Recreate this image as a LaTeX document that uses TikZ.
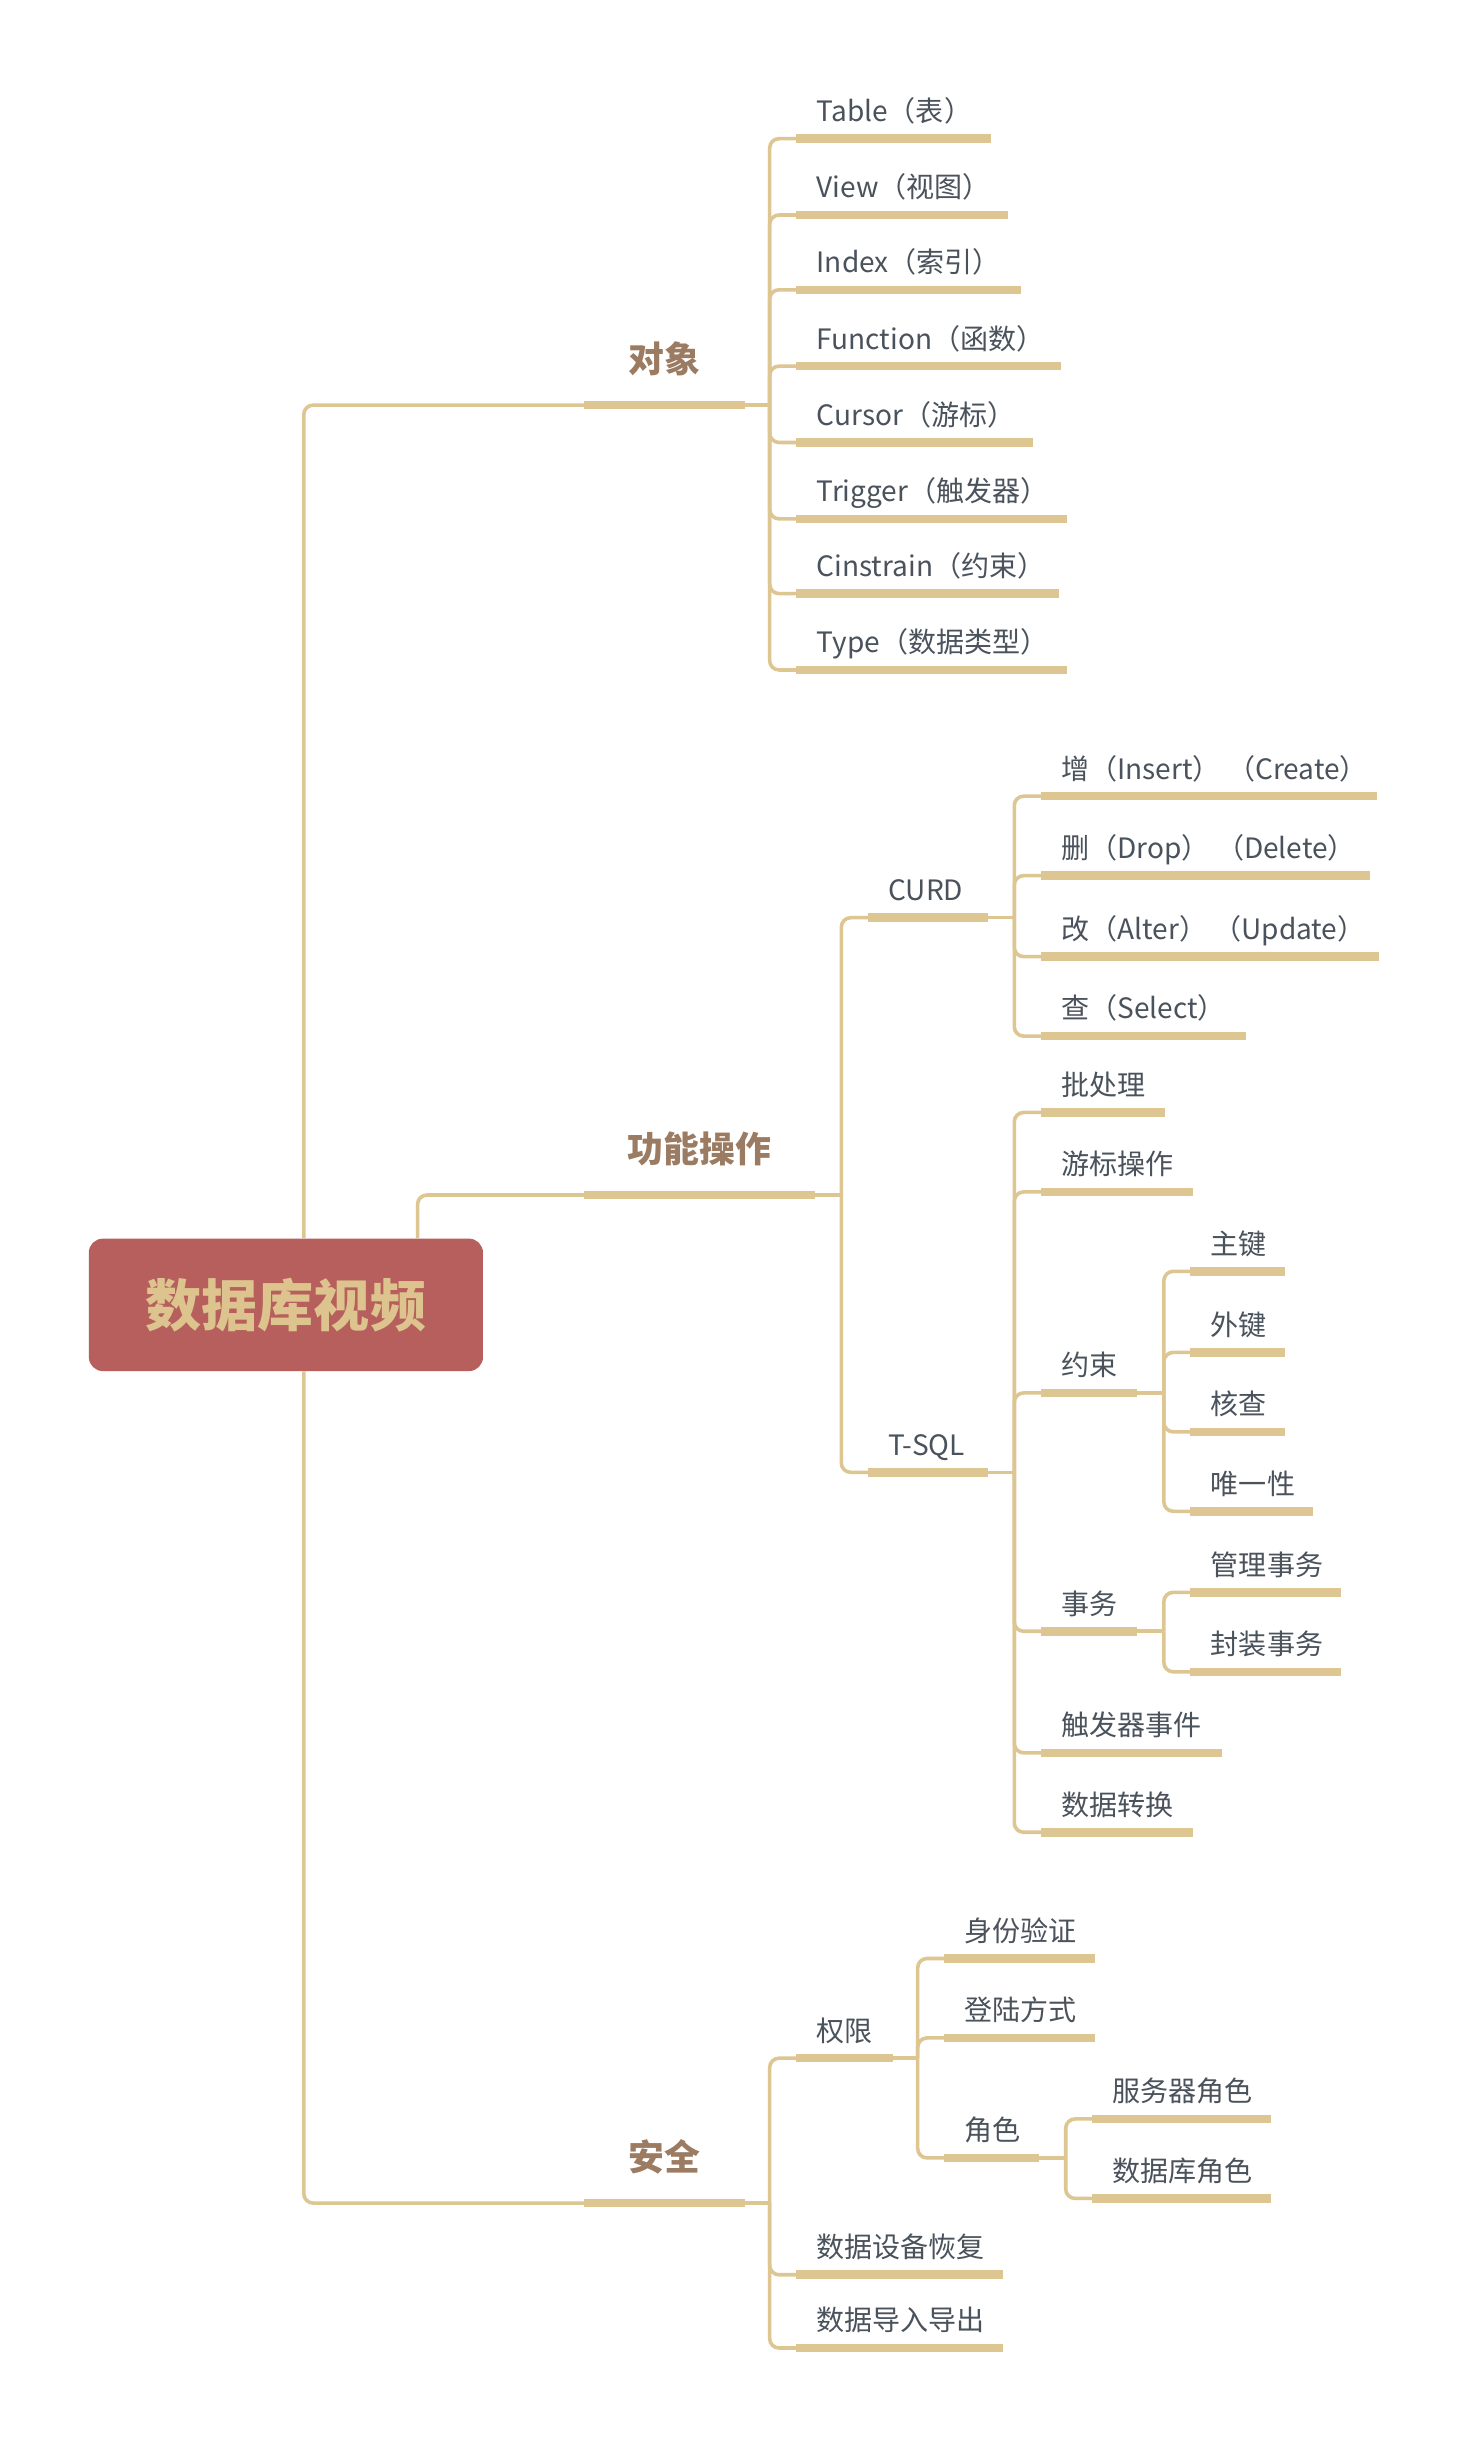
\documentclass[tikz,border=0pt]{standalone}
\usepackage{fontspec}
\setmainfont{Noto Sans CJK SC}
\definecolor{linec}{HTML}{DDC692}
\definecolor{rootfill}{HTML}{B75F5C}
\definecolor{roottext}{HTML}{DDC48F}
\definecolor{lvlone}{HTML}{9B7B62}
\definecolor{txt}{HTML}{4A525C}
% leaf: name, x, y (underline), length, text
\newcommand\leaf[5]{%
  \coordinate (#1) at (#2,#3);
  \coordinate (#1-e) at (#2+#4,#3);
  \node[lbl] (#1-t) at (#2+13,#3-11) {#5};
  \draw[ul] (#1) -- (#1-e);
}
% main branch: name, x, y, length, text
\newcommand\mainbr[5]{%
  \coordinate (#1) at (#2,#3);
  \coordinate (#1-e) at (#2+#4,#3);
  \node[lone] (#1-t) at (#2+#4/2,#3-21) {#5};
  \draw[ul] (#1) -- (#1-e);
}
\begin{document}
\begin{tikzpicture}[x=1pt,y=-1pt,
  conn/.style={draw=linec, line width=2.3pt, rounded corners=6pt},
  ul/.style={draw=linec, line width=5.5pt},
  lbl/.style={text=txt, font=\fontsize{18}{21}\selectfont, inner sep=0pt, anchor=base west},
  lone/.style={text=lvlone, font=\fontsize{23}{26}\selectfont\bfseries, inner sep=0pt, anchor=base},
  rootbox/.style={fill=rootfill, rounded corners=9pt, minimum width=253pt, minimum height=85pt,
    inner sep=0pt, text=roottext, font=\fontsize{36}{40}\selectfont\bfseries}]
\fill[white] (0,0) rectangle (942,1568);
\useasboundingbox (0,0) rectangle (942,1568);

% root
\node[rootbox] (root) at (183.5,837.5) {数据库视频};
\coordinate (x195) at (195,0);
\coordinate (x268) at (268,0);
\coordinate (rt1) at (root.north -| x195);
\coordinate (rt2) at (root.north -| x268);
\coordinate (rb1) at (root.south -| x195);

% ---------- 对象 ----------
\mainbr{obj}{375}{260}{103}{对象}
\draw[conn] (rt1) |- (obj);
\coordinate (objS) at (494,260);
\draw[conn] (obj-e) -- (objS);
\leaf{o1}{511}{89}{125}{Table（表）}
\leaf{o2}{511}{138}{136}{View（视图）}
\leaf{o3}{511}{186}{144}{Index（索引）}
\leaf{o4}{511}{235}{170}{Function（函数）}
\leaf{o5}{511}{284}{152}{Cursor（游标）}
\leaf{o6}{511}{333}{174}{Trigger（触发器）}
\leaf{o7}{511}{381}{169}{Cinstrain（约束）}
\leaf{o8}{511}{430}{174}{Type（数据类型）}
\foreach \c in {o1,o2,o3,o4,o5,o6,o7,o8} \draw[conn] (objS) |- (\c);

% ---------- 功能操作 ----------
\mainbr{fn}{375}{767}{148}{功能操作}
\draw[conn] (rt2) |- (fn);
\coordinate (fnS) at (540,767);
\draw[conn] (fn-e) -- (fnS);
\leaf{curd}{557}{589}{77}{CURD}
\leaf{tsql}{557}{945}{77}{T-SQL}
\draw[conn] (fnS) |- (curd);
\draw[conn] (fnS) |- (tsql);

\coordinate (curdS) at (651,589);
\draw[conn] (curd-e) -- (curdS);
\leaf{c1}{668}{511}{216}{增（Insert） （Create）}
\leaf{c2}{668}{562}{211}{删（Drop） （Delete）}
\leaf{c3}{668}{614}{217}{改（Alter） （Update）}
\leaf{c4}{668}{665}{132}{查（Select）}
\foreach \c in {c1,c2,c3,c4} \draw[conn] (curdS) |- (\c);

\coordinate (tsqlS) at (651,945);
\draw[conn] (tsql-e) -- (tsqlS);
\leaf{t1}{668}{714}{80}{批处理}
\leaf{t2}{668}{765}{98}{游标操作}
\leaf{t3}{668}{894}{62}{约束}
\leaf{t4}{668}{1047}{62}{事务}
\leaf{t5}{668}{1125}{116}{触发器事件}
\leaf{t6}{668}{1176}{98}{数据转换}
\foreach \c in {t1,t2,t3,t4,t5,t6} \draw[conn] (tsqlS) |- (\c);

\coordinate (t3S) at (747,894);
\draw[conn] (t3-e) -- (t3S);
\leaf{k1}{764}{816}{61}{主键}
\leaf{k2}{764}{868}{61}{外键}
\leaf{k3}{764}{919}{61}{核查}
\leaf{k4}{764}{970}{79}{唯一性}
\foreach \c in {k1,k2,k3,k4} \draw[conn] (t3S) |- (\c);

\coordinate (t4S) at (747,1047);
\draw[conn] (t4-e) -- (t4S);
\leaf{w1}{764}{1022}{97}{管理事务}
\leaf{w2}{764}{1073}{97}{封装事务}
\foreach \c in {w1,w2} \draw[conn] (t4S) |- (\c);

% ---------- 安全 ----------
\mainbr{sec}{375}{1414}{103}{安全}
\draw[conn] (rb1) |- (sec);
\coordinate (secS) at (494,1414);
\draw[conn] (sec-e) -- (secS);
\leaf{s1}{511}{1321}{62}{权限}
\leaf{s2}{511}{1460}{133}{数据设备恢复}
\leaf{s3}{511}{1507}{133}{数据导入导出}
\foreach \c in {s1,s2,s3} \draw[conn] (secS) |- (\c);

\coordinate (s1S) at (589,1321);
\draw[conn] (s1-e) -- (s1S);
\leaf{p1}{606}{1257}{97}{身份验证}
\leaf{p2}{606}{1308}{97}{登陆方式}
\leaf{p3}{606}{1385}{61}{角色}
\foreach \c in {p1,p2,p3} \draw[conn] (s1S) |- (\c);

\coordinate (p3S) at (684,1385);
\draw[conn] (p3-e) -- (p3S);
\leaf{r1}{701}{1360}{115}{服务器角色}
\leaf{r2}{701}{1411}{115}{数据库角色}
\foreach \c in {r1,r2} \draw[conn] (p3S) |- (\c);
\end{tikzpicture}
\end{document}
